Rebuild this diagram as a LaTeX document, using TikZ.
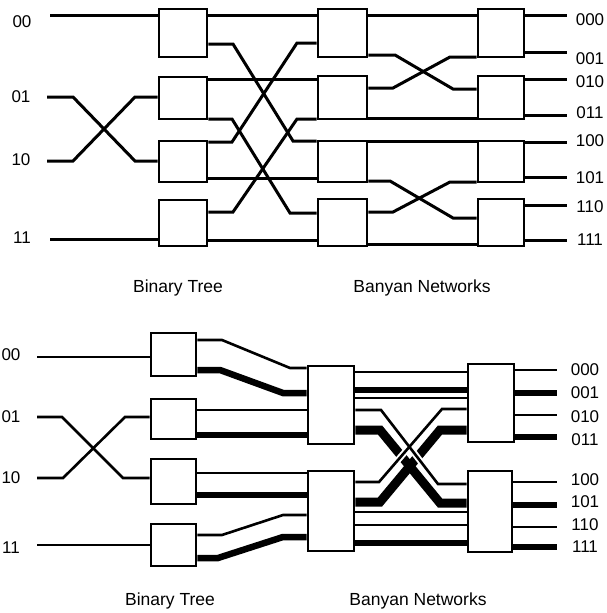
\documentclass[tikz,border=0pt]{standalone}
\usepackage{fontspec}
\setmainfont{Liberation Sans}
\begin{document}
\begin{tikzpicture}[x=1pt,y=-1pt,
  box/.style={draw,line width=2.8pt,fill=white,inner sep=0pt},
  wire/.style={line width=3pt},
  thinw/.style={line width=2.6pt},
  thickw/.style={line width=6.5pt},
  xthickw/.style={line width=9pt},
  halo/.style={white,line width=6.5pt},
  lab/.style={font=\fontsize{17}{17}\selectfont,inner sep=0pt},
  ttl/.style={font=\fontsize{17.5}{18}\selectfont,inner sep=0pt,anchor=base}]
\useasboundingbox (0,0) rectangle (607,613);

% ---------------- TOP: boxes ----------------
\node[box,minimum width=48pt,minimum height=48pt] (T11) at (183,33) {};
\node[box,minimum width=48pt,minimum height=42pt] (T12) at (183,98) {};
\node[box,minimum width=48pt,minimum height=41pt] (T13) at (183,161.5) {};
\node[box,minimum width=48pt,minimum height=46pt] (T14) at (183,223) {};
\node[box,minimum width=49pt,minimum height=48pt] (T21) at (342.5,33) {};
\node[box,minimum width=49pt,minimum height=43pt] (T22) at (342.5,97.5) {};
\node[box,minimum width=49pt,minimum height=41pt] (T23) at (342.5,161.5) {};
\node[box,minimum width=49pt,minimum height=47pt] (T24) at (342.5,222.5) {};
\node[box,minimum width=46pt,minimum height=48pt] (T31) at (501,33) {};
\node[box,minimum width=46pt,minimum height=43pt] (T32) at (501,97.5) {};
\node[box,minimum width=46pt,minimum height=41pt] (T33) at (501,161.5) {};
\node[box,minimum width=46pt,minimum height=47pt] (T34) at (501,222.5) {};

% labels
\node[lab] (l00) at (22,22) {00};
\node[lab] (l01) at (21,97) {01};
\node[lab] (l10) at (21,160) {10};
\node[lab] (l11) at (22,238) {11};
\node[lab] (r000) at (590,20) {000};
\node[lab] (r001) at (590,59) {001};
\node[lab] (r010) at (590,82) {010};
\node[lab] (r011) at (590,113) {011};
\node[lab] (r100) at (590,141) {100};
\node[lab] (r101) at (590,178) {101};
\node[lab] (r110) at (590,207) {110};
\node[lab] (r111) at (590,240) {111};
\node[ttl] (tbt) at (178,292) {Binary Tree};
\node[ttl] (tbn) at (422,292) {Banyan Networks};

% free ends
\coordinate (i00) at (50,15);
\coordinate (i01) at (47,97);
\coordinate (i10) at (47,161);
\coordinate (i11) at (50,239);
\coordinate (o000) at (567,15);
\coordinate (o001) at (567,52);
\coordinate (o010) at (567,79);
\coordinate (o011) at (567,115);
\coordinate (o100) at (567,142);
\coordinate (o101) at (567,177);
\coordinate (o110) at (567,205);
\coordinate (o111) at (567,240);

% inputs
\draw[wire] (i00) -- (T11.west |- i00);
\draw[wire] (i01) -- ++(26,0) -- (135,161) -- (T13.west |- 0,161);
\draw[wire] (i10) -- ++(26,0) -- (135,97) -- (T12.west |- 0,97);
\draw[wire] (i11) -- (T14.west |- i11);

% stage 1 -> 2
\draw[wire] (T11.east |- 0,15) -- (T21.west |- 0,15);
\draw[wire] (T11.east |- 0,44) -- (233,44) -- (293,141) -- (T23.west |- 0,141);
\draw[wire] (T12.east |- 0,79) -- (T22.west |- 0,79);
\draw[wire] (T12.east |- 0,119) -- (232,119) -- (290,213) -- (T24.west |- 0,213);
\draw[wire] (T13.east |- 0,142) -- (232,142) -- (297,43) -- (T21.west |- 0,43);
\draw[wire] (T13.east |- 0,178) -- (T23.west |- 0,178);
\draw[wire] (T14.east |- 0,212) -- (233,212) -- (297,119) -- (T22.west |- 0,119);
\draw[wire] (T14.east |- 0,240) -- (T24.west |- 0,240);

% stage 2 -> 3
\draw[wire] (T21.east |- 0,15) -- (T31.west |- 0,15);
\draw[wire] (T21.east |- 0,55) -- (395,55) -- (453,89) -- (T32.west |- 0,89);
\draw[wire] (T22.east |- 0,88) -- (393,88) -- (450,57) -- (T31.west |- 0,57);
\draw[wire] (T22.east |- 0,118) -- (T32.west |- 0,118);
\draw[wire] (T23.east |- 0,141) -- (T33.west |- 0,141);
\draw[wire] (T23.east |- 0,181) -- (390,181) -- (453,218) -- (T34.west |- 0,218);
\draw[wire] (T24.east |- 0,212) -- (393,212) -- (450,182) -- (T33.west |- 0,182);
\draw[wire] (T24.east |- 0,244) -- (T34.west |- 0,244);

% outputs
\draw[wire] (T31.east |- o000) -- (o000);
\draw[wire] (T31.east |- o001) -- (o001);
\draw[wire] (T32.east |- o010) -- (o010);
\draw[wire] (T32.east |- o011) -- (o011);
\draw[wire] (T33.east |- o100) -- (o100);
\draw[wire] (T33.east |- o101) -- (o101);
\draw[wire] (T34.east |- o110) -- (o110);
\draw[wire] (T34.east |- o111) -- (o111);

% ---------------- BOTTOM: boxes ----------------
\node[box,minimum width=45pt,minimum height=43pt] (B11) at (173.5,354.5) {};
\node[box,minimum width=45pt,minimum height=40pt] (B12) at (173.5,419) {};
\node[box,minimum width=45pt,minimum height=45pt] (B13) at (173.5,481.5) {};
\node[box,minimum width=45pt,minimum height=42pt] (B14) at (173.5,545) {};
\node[box,minimum width=46pt,minimum height=78pt] (A) at (331,405) {};
\node[box,minimum width=46pt,minimum height=80pt] (BB) at (331,511) {};
\node[box,minimum width=46pt,minimum height=78pt] (C) at (491,403) {};
\node[box,minimum width=44pt,minimum height=81pt] (D) at (490,511.5) {};

% labels
\node[lab] (m00) at (11,355) {00};
\node[lab] (m01) at (11,417) {01};
\node[lab] (m10) at (11,478) {10};
\node[lab] (m11) at (11,548) {11};
\node[lab] (s000) at (585,370) {000};
\node[lab] (s001) at (585,393) {001};
\node[lab] (s010) at (585,417) {010};
\node[lab] (s011) at (585,440) {011};
\node[lab] (s100) at (585,480) {100};
\node[lab] (s101) at (585,502) {101};
\node[lab] (s110) at (585,525) {110};
\node[lab] (s111) at (585,547) {111};
\node[ttl] (bbt) at (170,605) {Binary Tree};
\node[ttl] (bbn) at (418,605) {Banyan Networks};

% free ends
\coordinate (j00) at (37,357);
\coordinate (j01) at (37,417);
\coordinate (j10) at (37,478);
\coordinate (j11) at (37,545);
\coordinate (p000) at (557,370);
\coordinate (p001) at (557,393);
\coordinate (p010) at (557,415);
\coordinate (p011) at (557,437);
\coordinate (p100) at (557,482);
\coordinate (p101) at (557,505);
\coordinate (p110) at (557,527);
\coordinate (p111) at (557,547);

% inputs
\draw[thinw] (j00) -- (B11.west |- j00);
\draw[thinw] (j01) -- ++(25,0) -- (123,478) -- (B13.west |- 0,478);
\draw[thinw] (j10) -- ++(26,0) -- (125,417) -- (B12.west |- 0,417);
\draw[thinw] (j11) -- (B14.west |- j11);

% stage 1 -> 2
\draw[thinw] (B11.east |- 0,340) -- (222,340) -- (290,368) -- (A.west |- 0,368);
\draw[thickw] (B11.east |- 0,370) -- (220,370) -- (283,393) -- (A.west |- 0,393);
\draw[thinw] (B12.east |- 0,410) -- (A.west |- 0,410);
\draw[thickw] (B12.east |- 0,435) -- (A.west |- 0,435);
\draw[thinw] (B13.east |- 0,473) -- (BB.west |- 0,473);
\draw[thickw] (B13.east |- 0,495) -- (BB.west |- 0,495);
\draw[thinw] (B14.east |- 0,535) -- (222,535) -- (283,515) -- (BB.west |- 0,515);
\draw[thickw] (B14.east |- 0,558) -- (218,558) -- (283,537) -- (BB.west |- 0,537);

% stage 2 -> 3
\draw[thinw] (A.east |- 0,372) -- (C.west |- 0,372);
\draw[thickw] (A.east |- 0,390) -- (C.west |- 0,390);
\draw[thinw] (A.east |- 0,398) -- (C.west |- 0,398);
\draw[xthickw] (A.east |- 0,430) -- (380,430) -- (440,503) -- (D.west |- 0,503);
\draw[xthickw] (BB.east |- 0,502) -- (380,502) -- (440,430) -- (C.west |- 0,430);
\draw[halo] (A.east |- 0,410) -- (381,410) -- (438,484) -- (D.west |- 0,484);
\draw[halo] (BB.east |- 0,482) -- (379,482) -- (442,409) -- (C.west |- 0,409);
\draw[thinw] (A.east |- 0,410) -- (381,410) -- (438,484) -- (D.west |- 0,484);
\draw[thinw] (BB.east |- 0,482) -- (379,482) -- (442,409) -- (C.west |- 0,409);
\draw[thinw] (BB.east |- 0,512) -- (D.west |- 0,512);
\draw[thinw] (BB.east |- 0,525) -- (D.west |- 0,525);
\draw[thickw] (BB.east |- 0,543) -- (D.west |- 0,543);

% outputs
\draw[thinw] (C.east |- p000) -- (p000);
\draw[thickw] (C.east |- p001) -- (p001);
\draw[thinw] (C.east |- p010) -- (p010);
\draw[thickw] (C.east |- p011) -- (p011);
\draw[thinw] (D.east |- p100) -- (p100);
\draw[thickw] (D.east |- p101) -- (p101);
\draw[thinw] (D.east |- p110) -- (p110);
\draw[thickw] (D.east |- p111) -- (p111);
\end{tikzpicture}
\end{document}
